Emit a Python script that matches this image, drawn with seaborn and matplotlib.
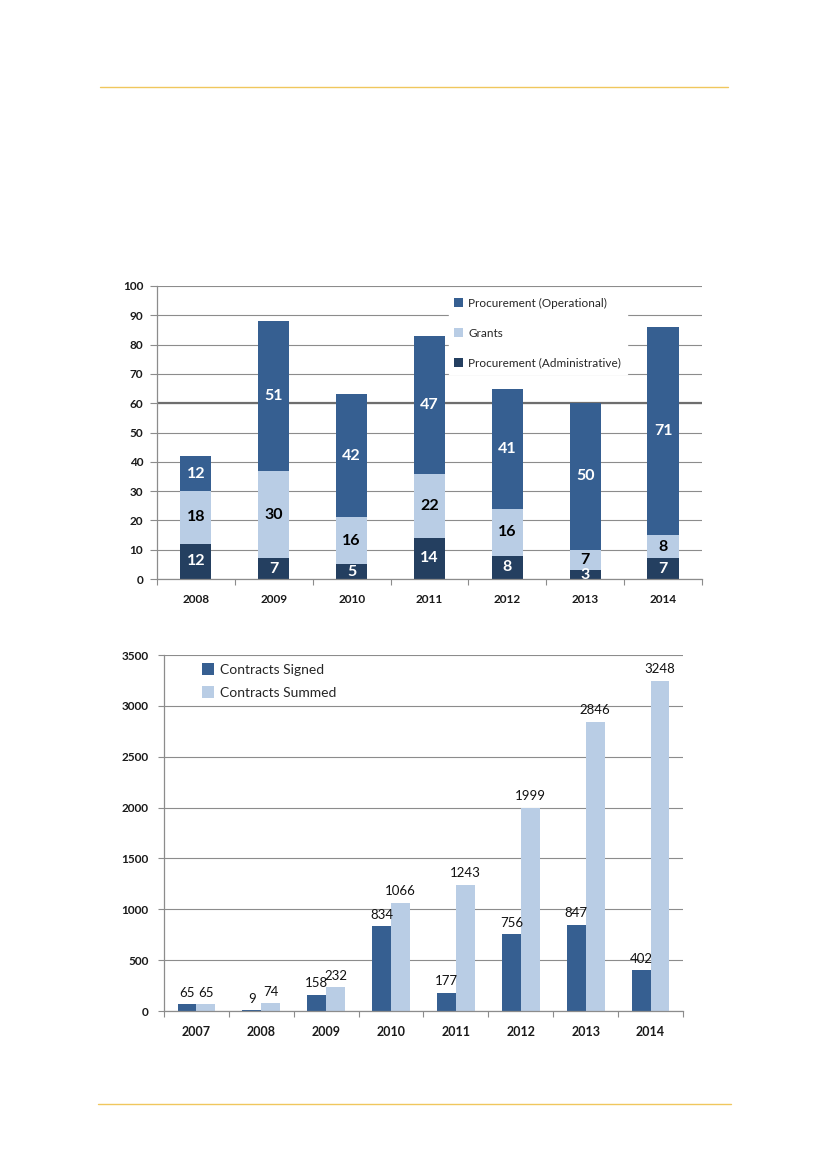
import matplotlib
matplotlib.use("Agg")
import matplotlib.pyplot as plt
from matplotlib.lines import Line2D
import seaborn as sns
import numpy as np
import pandas as pd

# ---------------- data ----------------
years_top = ["2008", "2009", "2010", "2011", "2012", "2013", "2014"]
proc_admin = [12, 7, 5, 14, 8, 3, 7]
grants = [18, 30, 16, 22, 16, 7, 8]
proc_oper = [12, 51, 42, 47, 41, 50, 71]
top_series = ["Procurement (Operational)", "Grants", "Procurement (Administrative)"]
top_yticks = [0, 10, 20, 30, 40, 50, 60, 70, 80, 90, 100]

years_bot = ["2007", "2008", "2009", "2010", "2011", "2012", "2013", "2014"]
contracts_signed = [65, 9, 158, 834, 177, 756, 847, 402]
contracts_summed = [65, 74, 232, 1066, 1243, 1999, 2846, 3248]
bot_series = ["Contracts Signed", "Contracts Summed"]
bot_yticks = [0, 500, 1000, 1500, 2000, 2500, 3000, 3500]

C_OPER = "#365F91"
C_GRANT = "#B9CDE5"
C_ADMIN = "#243F60"
GRID = "#8C8C8C"

sns.set_theme(style="white")
plt.rcParams["font.family"] = ["Lato", "DejaVu Sans"]

fig = plt.figure(figsize=(8.27, 11.70), dpi=100)

# decorative page rules
fig.add_artist(Line2D([100 / 827, 728 / 827], [1 - 87 / 1170] * 2, color="#F0C75E", lw=1.0))
fig.add_artist(Line2D([98 / 827, 731 / 827], [1 - 1104 / 1170] * 2, color="#F0C75E", lw=1.0))


def style_axes(ax, n, yticks, tick_len, pad_y, pad_x, ysize, xsize):
    ax.set_axisbelow(True)
    ax.set_xlim(-0.5, n - 0.5)
    ax.set_ylim(yticks[0], yticks[-1])
    ax.set_yticks(yticks)
    ax.yaxis.grid(True, color=GRID, lw=0.8)
    ax.xaxis.grid(False)
    for s in ["top", "right"]:
        ax.spines[s].set_visible(False)
    for s in ["left", "bottom"]:
        ax.spines[s].set_color(GRID)
        ax.spines[s].set_linewidth(0.9)
    ax.tick_params(axis="y", which="major", length=tick_len, width=0.8, color=GRID,
                   direction="out", pad=pad_y, labelsize=ysize, left=True)
    for lab in ax.get_yticklabels():
        lab.set_fontweight("bold")
        lab.set_color("#1a1a1a")
    ax.tick_params(axis="x", which="major", length=0, pad=pad_x, labelsize=xsize)
    for lab in ax.get_xticklabels():
        lab.set_fontweight("bold")
        lab.set_color("#1a1a1a")
    ax.set_xticks(np.arange(-0.5, n, 1.0), minor=True)
    ax.tick_params(axis="x", which="minor", length=4, width=0.8, color=GRID,
                   direction="out", bottom=True)
    ax.set_xlabel("")
    ax.set_ylabel("")


# ---------------- top chart: stacked bars ----------------
ax1 = fig.add_axes([157 / 827, 1 - 579 / 1170, 545 / 827, 293 / 1170])
bottom_grants = np.array(proc_admin)
bottom_oper = np.array(proc_admin) + np.array(grants)

sns.barplot(x=years_top, y=proc_admin, color=C_ADMIN, width=0.4, ax=ax1,
            label=top_series[2], saturation=1, errorbar=None, linewidth=0)
sns.barplot(x=years_top, y=grants, bottom=bottom_grants, color=C_GRANT, width=0.4,
            ax=ax1, label=top_series[1], saturation=1, errorbar=None, linewidth=0)
sns.barplot(x=years_top, y=proc_oper, bottom=bottom_oper, color=C_OPER, width=0.4,
            ax=ax1, label=top_series[0], saturation=1, errorbar=None, linewidth=0)

label_colors = ["white", "black", "white"]
for cont, col in zip(ax1.containers, label_colors):
    ax1.bar_label(cont, fmt="%d", label_type="center", color=col,
                  fontsize=11.5, fontweight="bold")

style_axes(ax1, len(years_top), top_yticks, tick_len=5, pad_y=5, pad_x=11,
           ysize=8.5, xsize=8.5)
ax1.axhline(60, color="#6E6E6E", lw=1.6, zorder=0.6)

h, l = ax1.get_legend_handles_labels()
order = [l.index(s) for s in top_series]
leg1 = ax1.legend([h[i] for i in order], [l[i] for i in order],
                  loc="upper left", bbox_to_anchor=(0.535, 0.98),
                  frameon=True, framealpha=1, edgecolor="white", facecolor="white",
                  fancybox=False, fontsize=8.5, handlelength=0.75, handleheight=0.75,
                  handletextpad=0.4, labelspacing=1.6, borderpad=0.5,
                  borderaxespad=0)
for t in leg1.get_texts():
    t.set_color("#262626")

# ---------------- bottom chart: grouped bars ----------------
ax2 = fig.add_axes([164 / 827, 1 - 1011 / 1170, 519 / 827, 356 / 1170])
df = pd.DataFrame({
    "year": years_bot * 2,
    "value": contracts_signed + contracts_summed,
    "series": [bot_series[0]] * len(years_bot) + [bot_series[1]] * len(years_bot),
})
sns.barplot(data=df, x="year", y="value", hue="series", hue_order=bot_series,
            palette=[C_OPER, C_GRANT], width=0.58, gap=0, saturation=1,
            errorbar=None, linewidth=0, ax=ax2)
for cont in ax2.containers:
    ax2.bar_label(cont, fmt="%d", padding=4, fontsize=9.5, color="#111111")

style_axes(ax2, len(years_bot), bot_yticks, tick_len=4, pad_y=7, pad_x=11,
           ysize=8.5, xsize=9)

leg2 = ax2.legend(loc="upper left", bbox_to_anchor=(0.058, 1.0), frameon=False,
                  fontsize=10, handlelength=0.8, handleheight=0.9,
                  handletextpad=0.45, labelspacing=0.75, borderaxespad=0.2,
                  title=None)
for t in leg2.get_texts():
    t.set_color("#262626")

fig.savefig("out.png", dpi=100, facecolor="white")
